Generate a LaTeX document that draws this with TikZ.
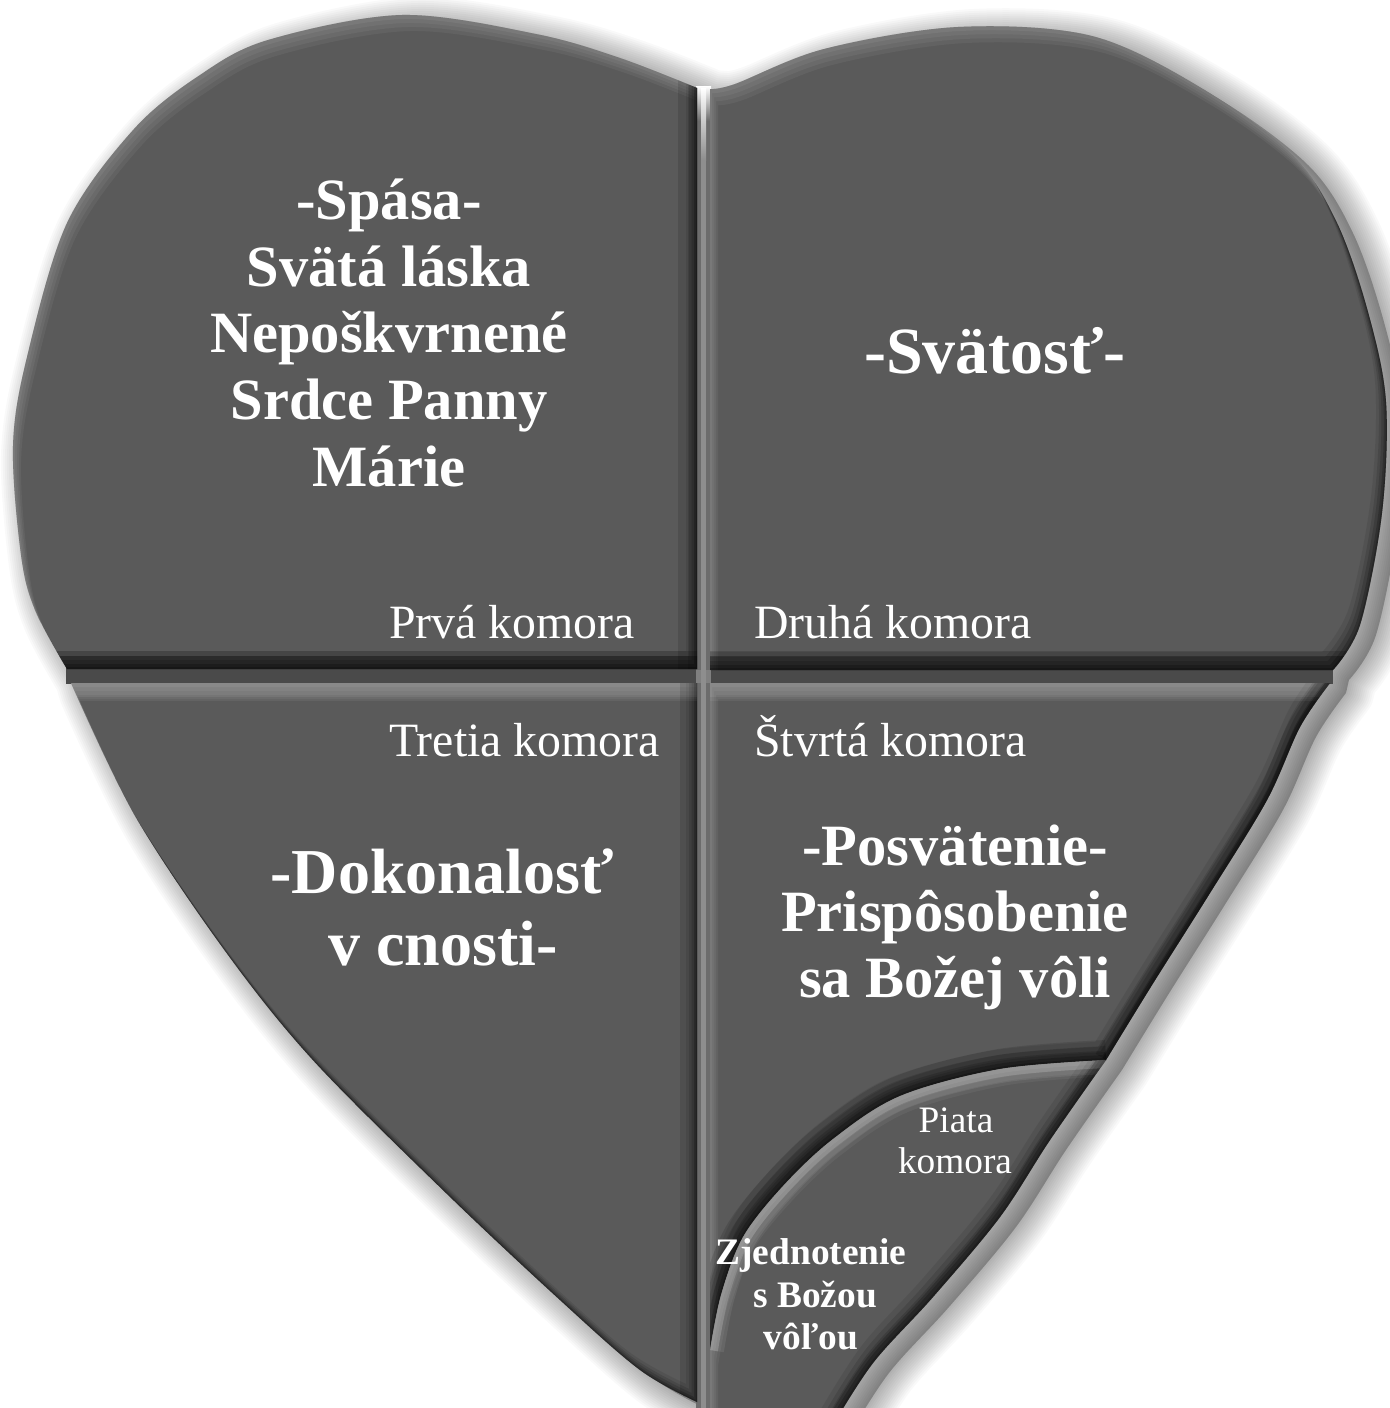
\documentclass[tikz,border=0pt]{standalone}
\usepackage{fontspec}
\setmainfont{Liberation Serif}
\definecolor{chfill}{HTML}{5A5A5A}
\definecolor{gapdark}{HTML}{4A4A4A}
\definecolor{gapmid}{HTML}{6C6C6C}
\definecolor{gaplight}{HTML}{8E8E8E}
% chamber outlines (pixel coordinates, y downwards)
\def\pA{(697,669) -- (67,669) -- plot[smooth,tension=0.55] coordinates {(67,669) (35,610) (21,555) (13,446) (27,357) (67,223) (134,129) (200,75) (268,40) (402,15) (536,34) (620,58) (697,88)} -- cycle}
\def\pB{(710,670) -- (710,89) -- plot[smooth,tension=0.55] coordinates {(710,89) (735,84) (824,49) (958,27) (1092,36) (1203,89) (1293,156) (1337,223) (1368,312) (1386,402) (1382,513) (1360,625) (1333,670)} -- cycle}
\def\pC{(697,683) -- (71,683) -- plot[smooth,tension=0.55] coordinates {(71,683) (134,814) (223,948) (312,1059) (446,1193) (560,1300) (640,1370) (697,1402)} -- cycle}
\def\rightedge{plot[smooth,tension=0.55] coordinates {(1330,683) (1300,727) (1267,800) (1210,893) (1152,985) (1106,1060)}}
\def\arcfive{plot[smooth,tension=0.55] coordinates {(710,1350) (721,1295) (743,1237) (783,1186) (833,1139) (900,1096) (1000,1069) (1106,1060)}}
\def\lowedge{plot[smooth,tension=0.55] coordinates {(1106,1060) (1050,1140) (1000,1217) (933,1297) (873,1363) (830,1430)}}
\edef\pD{(710,683) -- (1330,683) -- \rightedge\space -- plot[smooth,tension=0.55] coordinates {(1106,1060) (1000,1069) (900,1096) (833,1139) (783,1186) (743,1237) (721,1295) (710,1350)} -- cycle}
\edef\pE{(710,1350) -- \arcfive\space -- \lowedge\space -- (710,1430) -- cycle}
\edef\pH{plot[smooth,tension=0.55] coordinates {(67,669) (35,610) (21,555) (13,446) (27,357) (67,223) (134,129) (200,75) (268,40) (402,15) (536,34) (620,58) (697,88)} -- (710,89) -- plot[smooth,tension=0.55] coordinates {(710,89) (735,84) (824,49) (958,27) (1092,36) (1203,89) (1293,156) (1337,223) (1368,312) (1386,402) (1382,513) (1360,625) (1333,670)} -- (1330,683) -- \rightedge\space -- \lowedge\space -- (697,1430) -- plot[smooth,tension=0.55] coordinates {(697,1402) (640,1370) (560,1300) (446,1193) (312,1059) (223,948) (134,814) (71,683)} -- cycle}
\newcommand\bevelchamber[1]{%
  \fill[chfill] #1;
  \begin{scope}
    \clip #1;
    \foreach \s/\o in {16/0.05,12/0.05,8/0.05,4/0.06}{
      \begin{scope}[shift={(0.5*\s,\s)}]
        \fill[white,opacity=\o,even odd rule] (-300,-300) rectangle (1700,1700) #1;
      \end{scope}}
    \foreach \s/\o in {18/0.08,13/0.12,9/0.15,5/0.2,2/0.2}{
      \begin{scope}[shift={(-0.6*\s,-\s)}]
        \fill[black,opacity=\o,even odd rule] (-300,-300) rectangle (1700,1700) #1;
      \end{scope}}
  \end{scope}}
\tikzset{
  lbl/.style={text=white, inner sep=0pt, anchor=base},
  bigA/.style={lbl, font=\bfseries\fontsize{29.25pt}{33pt}\selectfont},
  bigB/.style={lbl, font=\bfseries\fontsize{33pt}{37pt}\selectfont},
  bigC/.style={lbl, font=\bfseries\fontsize{32pt}{36pt}\selectfont},
  small/.style={lbl, anchor=base west, font=\fontsize{23.9pt}{27pt}\selectfont},
  tinyr/.style={lbl, font=\fontsize{18.65pt}{21pt}\selectfont},
  tinyb/.style={lbl, font=\bfseries\fontsize{18.7pt}{21pt}\selectfont}
}
\begin{document}
\begin{tikzpicture}[x=0.5pt,y=-0.5pt]
\useasboundingbox (0,0) rectangle (1390,1408);
\fill[white] (0,0) rectangle (1390,1408);
% soft drop shadow
\begin{scope}
  \clip (0,0) rectangle (1390,1408);
  \begin{scope}[shift={(16,10)}]
    \fill[black,opacity=0.25] \pH;
    \foreach \w in {4,8,...,56}{
      \draw[black,opacity=0.022,line width=\w*0.5pt,line join=round] \pH;}
  \end{scope}
\end{scope}
% gaps between chambers
\fill[gapdark] (66,668) rectangle (1333,684);
\fill[gapmid] (696,120) rectangle (711,1430);
\shade[top color=white, bottom color=gapmid] (696,86) rectangle (711,121);
% chambers
\bevelchamber{\pA}
\bevelchamber{\pB}
\bevelchamber{\pC}
\bevelchamber{\pD}
\bevelchamber{\pE}
% dark bottom bands of the two upper chambers
\begin{scope}
  \clip \pA;
  \fill[black,opacity=0.4] (0,656) rectangle (700,670);
  \fill[black,opacity=0.15] (0,651) rectangle (700,656);
  \fill[black,opacity=0.12] (678,80) rectangle (698,670);
  \fill[black,opacity=0.12] (688,80) rectangle (698,670);
\end{scope}
\begin{scope}
  \clip \pB;
  \fill[black,opacity=0.4] (700,656) rectangle (1400,671);
  \fill[black,opacity=0.15] (700,651) rectangle (1400,656);
\end{scope}
% light top stripes of the two lower chambers
\begin{scope}
  \clip \pC;
  \fill[white,opacity=0.12] (0,683) rectangle (700,697);
  \fill[white,opacity=0.06] (0,697) rectangle (700,701);
  \fill[black,opacity=0.12] (680,683) rectangle (698,1410);
\end{scope}
\begin{scope}
  \clip \pD;
  \fill[white,opacity=0.12] (700,683) rectangle (1400,697);
  \fill[white,opacity=0.06] (700,697) rectangle (1400,701);
  % dark rim along the outer edge
  \draw[black,opacity=0.15,line width=12pt] \rightedge;
  \draw[black,opacity=0.3,line width=4pt] \rightedge;
  % shadow above the fifth chamber
  \foreach \w in {40,28,16}{
    \draw[black,opacity=0.12,line width=\w*0.5pt] \arcfive;}
\end{scope}
\begin{scope}
  \clip \pE;
  \draw[white,opacity=0.15,line width=8pt] \arcfive;
  \draw[white,opacity=0.08,line width=14pt] \arcfive;
  \draw[black,opacity=0.2,line width=8pt] \lowedge;
\end{scope}
% light line in the vertical gap
\shade[top color=white, bottom color=gaplight] (701,88) rectangle (706,160);
\fill[gaplight] (701,160) rectangle (706,1430);
\fill[gaplight, opacity=0.6] (696,670) rectangle (711,683);
% texts
\node[bigA] (s1) at (389,219) {-Spása-};
\node[bigA] (s2) at (389,286) {Svätá láska};
\node[bigA] (s3) at (389,352) {Nepoškvrnené};
\node[bigA] (s4) at (389,419) {Srdce Panny};
\node[bigA] (s5) at (389,486) {Márie};
\node[bigB] (sv) at (995,373) {-Svätosť-};
\node[small] (k1) at (389,638) {Prvá komora};
\node[small] (k2) at (754,638) {Druhá komora};
\node[small] (k3) at (389,756) {Tretia komora};
\node[small] (k4) at (754,756) {Štvrtá komora};
\node[bigC] (d1) at (442,893) {-Dokonalosť};
\node[bigC] (d2) at (443,965) {v cnosti-};
\node[bigA] (p1) at (955,865) {-Posvätenie-};
\node[bigA] (p2) at (955,931) {Prispôsobenie};
\node[bigA] (p3) at (955,997) {sa Božej vôli};
\node[tinyr] (k5a) at (956,1132) {Piata};
\node[tinyr] (k5b) at (955,1173) {komora};
\node[tinyb] (z1) at (811,1264) {Zjednotenie};
\node[tinyb] (z2) at (815,1307) {s Božou};
\node[tinyb] (z3) at (811,1349) {vôľou};
\end{tikzpicture}
\end{document}
